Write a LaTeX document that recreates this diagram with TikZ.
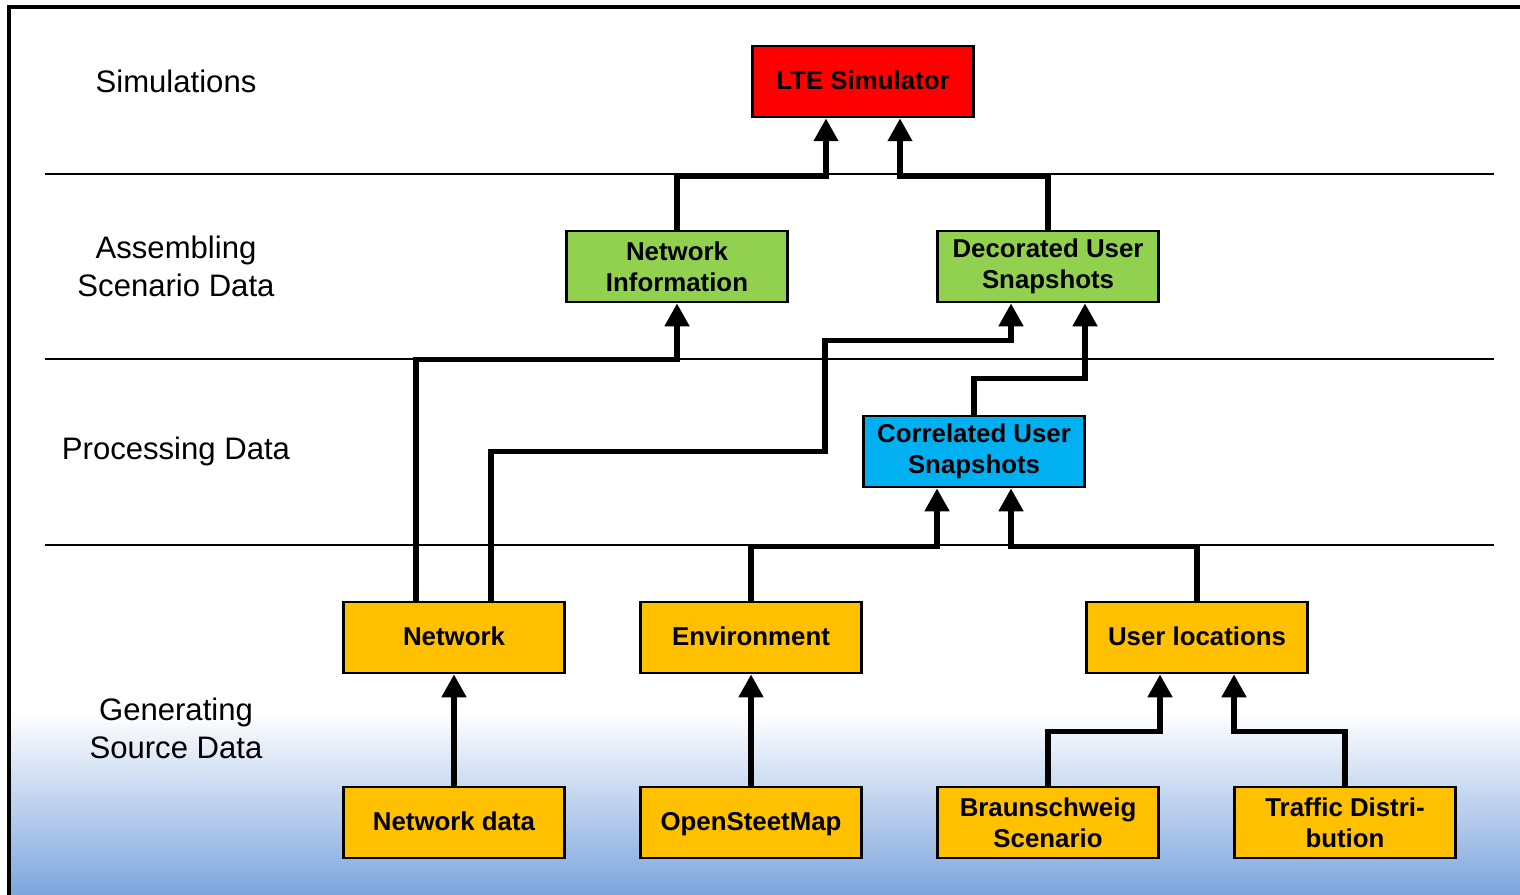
\documentclass[tikz,border=0pt]{standalone}
\usepackage{fontspec}
\setmainfont{Liberation Sans}
\usetikzlibrary{arrows.meta,calc}

\definecolor{lteRed}{RGB}{255,0,0}
\definecolor{asmGreen}{RGB}{146,208,80}
\definecolor{procBlue}{RGB}{0,176,240}
\definecolor{srcOrange}{RGB}{255,192,0}
\definecolor{floorBlue}{RGB}{122,163,220}

\tikzset{
  box/.style={draw=black, line width=1.6pt, minimum width=4.42cm, minimum height=1.42cm,
    inner sep=0pt, align=center, font=\fontsize{14.7}{17.6}\selectfont\bfseries},
  sline/.style={text height=11.2pt, text depth=2.5pt},
  layer/.style={align=center, font=\fontsize{17.7}{21.5}\selectfont},
  conn/.style={line width=3pt, -{Triangle[width=13.5pt,length=13pt]}},
  sep/.style={line width=0.9pt}
}

\begin{document}
\begin{tikzpicture}[x=0.02cm, y=-0.02cm]
	\useasboundingbox (0,0) rectangle (1520,894);
	% background and frame
	\shade[top color=white, bottom color=floorBlue] (9,712) rectangle (1530,900);
	\draw[line width=2pt] (9,905) -- (9,7) -- (1530,7);
	\draw[sep] (45,174) -- (1494,174);
	\draw[sep] (45,359) -- (1494,359);
	\draw[sep] (45,545) -- (1494,545);

	% layer names
	\node[layer] (simulations) at (176,81) {Simulations};
	\node[layer] (assembling) at (176,266) {Assembling\\Scenario Data};
	\node[layer] (processing) at (176,451) {Processing Data};
	\node[layer] (generating) at (176,728) {Generating\\Source Data};

	% boxes
	\node[box, sline, fill=lteRed] (lte) at (863,81.5) {LTE Simulator};
	\node[box, fill=asmGreen] (netinfo) at (677,266.5) {Network\\Information};
	\node[box, fill=asmGreen] (decorated) at (1048,266.5) {Decorated User\\Snapshots};
	\node[box, fill=procBlue] (correlated) at (974,451.5) {Correlated User\\Snapshots};
	\node[box, sline, fill=srcOrange] (network) at (454,637.5) {Network};
	\node[box, sline, fill=srcOrange] (environment) at (751,637.5) {Environment};
	\node[box, sline, fill=srcOrange] (userloc) at (1197,637.5) {User locations};
	\node[box, sline, fill=srcOrange] (netdata) at (454,822.5) {Network data};
	\node[box, sline, fill=srcOrange] (osm) at (751,822.5) {OpenSteetMap};
	\node[box, fill=srcOrange] (braunschweig) at (1048,822.5) {Braunschweig\\Scenario};
	\node[box, fill=srcOrange] (traffic) at (1345,822.5) {Traffic Distri-\\bution};

	% connectors
	\draw[conn] (netinfo.north) -- ++(0,-53) -| ($(lte.south)+(-37,0)$);
	\draw[conn] (decorated.north) -- ++(0,-53) -| ($(lte.south)+(37,0)$);
	\draw[conn] ($(network.north)+(-38,0)$) -- ++(0,-241) -| (netinfo.south);
	\draw[conn] ($(network.north)+(37,0)$) -- ++(0,-149) -- ++(334,0) -- ++(0,-111)
		-| ($(decorated.south)+(-37,0)$);
	\draw[conn] (correlated.north) -- ++(0,-36) -| ($(decorated.south)+(37,0)$);
	\draw[conn] (environment.north) -- ++(0,-54) -| ($(correlated.south)+(-37,0)$);
	\draw[conn] (userloc.north) -- ++(0,-54) -| ($(correlated.south)+(37,0)$);
	\draw[conn] (netdata) -- (network);
	\draw[conn] (osm) -- (environment);
	\draw[conn] (braunschweig.north) -- ++(0,-54) -| ($(userloc.south)+(-37,0)$);
	\draw[conn] (traffic.north) -- ++(0,-54) -| ($(userloc.south)+(37,0)$);
\end{tikzpicture}
\end{document}
